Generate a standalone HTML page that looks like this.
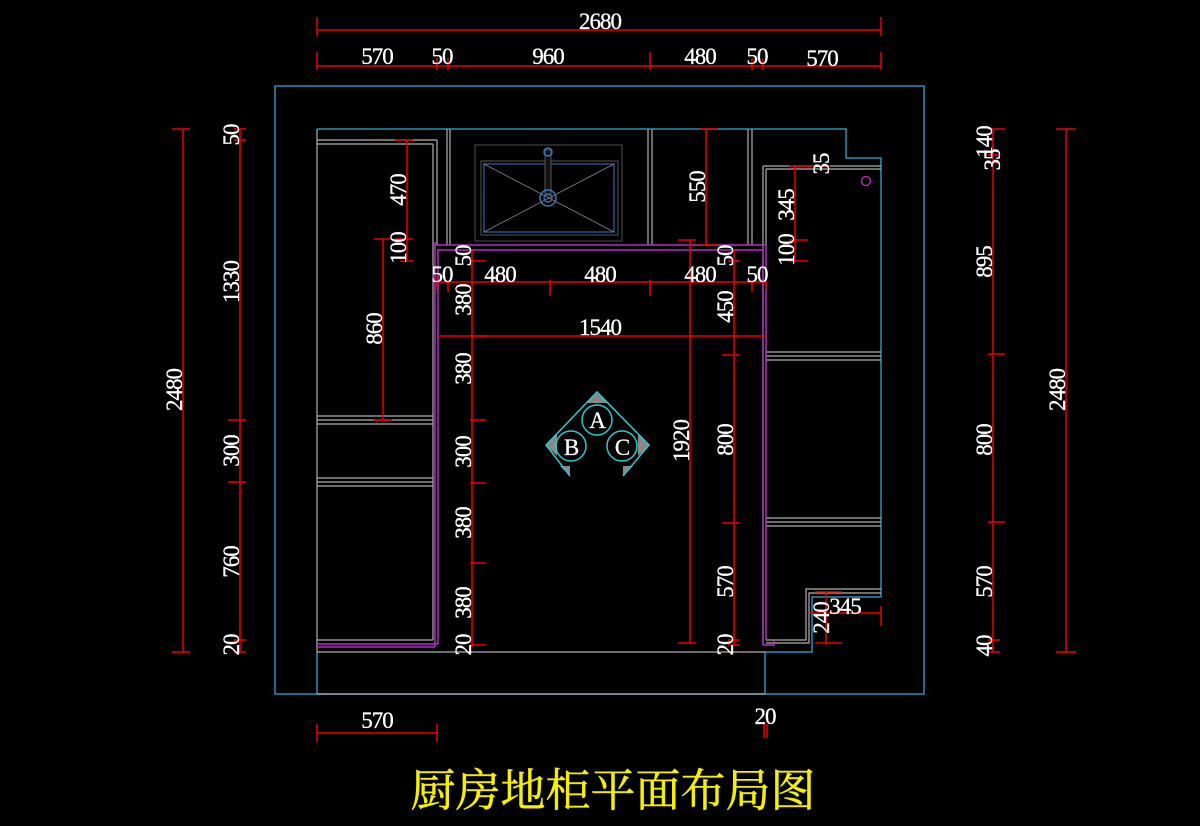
<!DOCTYPE html>
<html><head><meta charset="utf-8"><style>
html,body{margin:0;padding:0;background:#000;}
svg{display:block}
text{font-family:"Liberation Serif",serif;fill:#fff;font-size:23px;letter-spacing:-1px;stroke:#fff;stroke-width:0.3px;}
</style></head><body>
<svg width="1200" height="826" viewBox="0 0 1200 826" xmlns="http://www.w3.org/2000/svg">
<rect width="1200" height="826" fill="#000"/>
<g fill="none" stroke="#2a8fb5" stroke-width="1.5">
<rect x="275" y="86" width="649" height="608"/>
<polyline points="317,129 846,129 846,158 881,158 881,597 812,597 812,652 765,652 765,694"/>
<line x1="317" y1="652" x2="317" y2="694"/>
</g>
<g fill="none" stroke="#b0b0b0" stroke-width="1.2">
<line x1="317" y1="652" x2="765" y2="652"/>
<line x1="317" y1="694" x2="765" y2="694"/>
<line x1="317" y1="129" x2="317" y2="652"/>
<line x1="317" y1="140" x2="437" y2="140"/>
<line x1="317" y1="144" x2="433" y2="144"/>
<line x1="433" y1="144" x2="433" y2="640"/>
<line x1="437" y1="140" x2="437" y2="245"/>
<line x1="317" y1="416" x2="433" y2="416"/><line x1="317" y1="420" x2="433" y2="420"/><line x1="317" y1="424" x2="433" y2="424"/>
<line x1="317" y1="478" x2="433" y2="478"/><line x1="317" y1="482" x2="433" y2="482"/><line x1="317" y1="486" x2="433" y2="486"/>
<line x1="317" y1="640" x2="433" y2="640"/>
<line x1="447" y1="129" x2="447" y2="245"/><line x1="450" y1="129" x2="450" y2="245"/>
<line x1="648" y1="129" x2="648" y2="245"/><line x1="652" y1="129" x2="652" y2="245"/>
<line x1="748" y1="129" x2="748" y2="245"/><line x1="752" y1="129" x2="752" y2="245"/>
<line x1="763" y1="166" x2="881" y2="166"/><line x1="766" y1="169" x2="881" y2="169"/>
<line x1="763" y1="166" x2="763" y2="645"/><line x1="766" y1="169" x2="766" y2="245"/>
<line x1="766" y1="352" x2="881" y2="352"/><line x1="766" y1="356" x2="881" y2="356"/><line x1="766" y1="360" x2="881" y2="360"/>
<line x1="766" y1="518" x2="881" y2="518"/><line x1="766" y1="522" x2="881" y2="522"/><line x1="766" y1="526" x2="881" y2="526"/>
<polyline points="881,589 806,589 806,640 766,640"/>
<polyline points="881,593 809,593 809,643 766,643"/>
</g>
<rect x="475" y="145" width="147" height="96" fill="none" stroke="#444" stroke-width="1.2"/>
<rect x="481" y="161" width="137" height="74" fill="none" stroke="#555" stroke-width="1"/>
<rect x="484" y="164" width="130" height="68" fill="none" stroke="#2c4f8c" stroke-width="1.5"/>
<g stroke="#888" stroke-width="0.8"><line x1="484" y1="164" x2="614" y2="232"/><line x1="614" y1="164" x2="484" y2="232"/></g>
<rect x="545" y="150" width="6" height="45" fill="#111" stroke="#555"/>
<circle cx="548" cy="152" r="4" fill="none" stroke="#3a79c0" stroke-width="1.5"/>
<circle cx="548" cy="198" r="8" fill="none" stroke="#3a79c0" stroke-width="1.5"/>
<circle cx="548" cy="198" r="4" fill="none" stroke="#3a79c0" stroke-width="1.2"/>
<g fill="none" stroke="#b030c0" stroke-width="1.5">
<polyline points="435,245 765,245"/><polyline points="437,250 763,250"/>
<line x1="435" y1="242" x2="435" y2="647"/><line x1="438" y1="250" x2="438" y2="644"/>
<line x1="317" y1="644" x2="438" y2="644"/><line x1="317" y1="647" x2="435" y2="647"/>
<line x1="763" y1="245" x2="763" y2="645"/><line x1="766" y1="245" x2="766" y2="640"/>
<polyline points="763,645 774,645 774,640"/>
</g>
<circle cx="866" cy="181" r="4.5" fill="none" stroke="#c030c0" stroke-width="1.3"/>
<g>
<polygon points="597,392 608,403 586,403" fill="#888"/>
<polygon points="546,445 557,434 557,456" fill="#888"/>
<polygon points="649,445 638,434 638,456" fill="#888"/>
<polygon points="570,476 560,466 570,466" fill="#888"/>
<polygon points="623,476 633,466 623,466" fill="#888"/>
<g fill="none" stroke="#2ec8d0" stroke-width="1.5">
<polyline points="570,476 546,445 597,392 649,445 623,476"/>
<circle cx="597" cy="420" r="15"/><circle cx="571" cy="446" r="15"/><circle cx="622" cy="446" r="15"/>
</g>
<text x="597" y="428" text-anchor="middle" font-size="24">A</text>
<text x="571" y="455" text-anchor="middle" font-size="24">B</text>
<text x="622" y="455" text-anchor="middle" font-size="24">C</text>
</g>
<g stroke="#ee0000" stroke-width="1.5" fill="none">
<line x1="317" y1="30" x2="881" y2="30"/><line x1="317" y1="17" x2="317" y2="36"/><line x1="881" y1="17" x2="881" y2="36"/>
<line x1="317" y1="66" x2="881" y2="66"/>
<line x1="317" y1="52" x2="317" y2="70"/><line x1="437" y1="58" x2="437" y2="70"/><line x1="448" y1="58" x2="448" y2="70"/><line x1="650" y1="52" x2="650" y2="70"/><line x1="752" y1="58" x2="752" y2="70"/><line x1="763" y1="58" x2="763" y2="70"/><line x1="881" y1="52" x2="881" y2="70"/>
<line x1="183" y1="129" x2="183" y2="652"/><line x1="172" y1="129" x2="190" y2="129"/><line x1="172" y1="652" x2="190" y2="652"/>
<line x1="240" y1="129" x2="240" y2="652"/>
<line x1="234" y1="129" x2="246" y2="129"/><line x1="234" y1="140" x2="246" y2="140"/><line x1="228" y1="420" x2="246" y2="420"/><line x1="228" y1="482" x2="246" y2="482"/><line x1="234" y1="640" x2="246" y2="640"/><line x1="234" y1="652" x2="246" y2="652"/>
<line x1="1066" y1="129" x2="1066" y2="652"/><line x1="1056" y1="129" x2="1076" y2="129"/><line x1="1056" y1="652" x2="1076" y2="652"/>
<line x1="993" y1="129" x2="993" y2="652"/>
<line x1="988" y1="129" x2="1005" y2="129"/><line x1="988" y1="155" x2="1000" y2="155"/><line x1="988" y1="163" x2="1000" y2="163"/><line x1="988" y1="354" x2="1005" y2="354"/><line x1="988" y1="522" x2="1005" y2="522"/><line x1="988" y1="640" x2="1000" y2="640"/><line x1="988" y1="652" x2="1000" y2="652"/>
<line x1="407" y1="140" x2="407" y2="260"/><line x1="395" y1="140" x2="413" y2="140"/><line x1="395" y1="239" x2="413" y2="239"/><line x1="400" y1="261" x2="413" y2="261"/>
<line x1="383" y1="239" x2="383" y2="420"/><line x1="374" y1="239" x2="392" y2="239"/><line x1="374" y1="420" x2="392" y2="420"/>
<line x1="472" y1="250" x2="472" y2="647"/>
<line x1="470" y1="261" x2="486" y2="261"/><line x1="470" y1="336" x2="486" y2="336"/><line x1="470" y1="420" x2="486" y2="420"/><line x1="470" y1="483" x2="486" y2="483"/><line x1="470" y1="563" x2="486" y2="563"/><line x1="470" y1="645" x2="486" y2="645"/>
<line x1="690" y1="240" x2="690" y2="643"/><line x1="678" y1="240" x2="696" y2="240"/><line x1="678" y1="643" x2="696" y2="643"/>
<line x1="706" y1="129" x2="706" y2="245"/><line x1="700" y1="129" x2="718" y2="129"/><line x1="700" y1="245" x2="718" y2="245"/>
<line x1="734" y1="250" x2="734" y2="645"/>
<line x1="728" y1="261" x2="740" y2="261"/><line x1="722" y1="355" x2="740" y2="355"/><line x1="722" y1="523" x2="740" y2="523"/><line x1="728" y1="640" x2="740" y2="640"/><line x1="728" y1="645" x2="740" y2="645"/>
<line x1="795" y1="166" x2="795" y2="261"/><line x1="789" y1="166" x2="830" y2="166"/><line x1="789" y1="240" x2="808" y2="240"/><line x1="789" y1="261" x2="808" y2="261"/>
<line x1="437" y1="282" x2="766" y2="282"/>
<line x1="437" y1="275" x2="437" y2="290"/><line x1="448" y1="282" x2="448" y2="292"/><line x1="550" y1="280" x2="550" y2="296"/><line x1="650" y1="280" x2="650" y2="296"/><line x1="752" y1="282" x2="752" y2="292"/><line x1="766" y1="275" x2="766" y2="290"/>
<line x1="437" y1="336" x2="766" y2="336"/>
<line x1="826" y1="592" x2="826" y2="643"/><line x1="815" y1="592" x2="842" y2="592"/><line x1="815" y1="643" x2="842" y2="643"/>
<line x1="810" y1="613" x2="881" y2="613"/><line x1="881" y1="606" x2="881" y2="626"/>
<line x1="317" y1="733" x2="437" y2="733"/><line x1="317" y1="724" x2="317" y2="742"/><line x1="437" y1="724" x2="437" y2="742"/>
<line x1="764" y1="724" x2="764" y2="738"/><line x1="767" y1="724" x2="767" y2="738"/>
</g>
<g text-anchor="middle">
<text x="600" y="29">2680</text>
<text x="377" y="64">570</text><text x="442" y="64">50</text><text x="548" y="64">960</text><text x="700" y="64">480</text><text x="757" y="64">50</text><text x="822" y="66">570</text>
<text x="442" y="282">50</text><text x="500" y="282">480</text><text x="600" y="282">480</text><text x="700" y="282">480</text><text x="757" y="282">50</text>
<text x="600" y="335">1540</text>
<text x="845" y="614">345</text>
<text x="377" y="728">570</text>
<text x="765" y="724">20</text>
</g>
<g text-anchor="middle">
<text transform="translate(182,390) rotate(-90)">2480</text>
<text transform="translate(239,135) rotate(-90)">50</text>
<text transform="translate(239,282) rotate(-90)">1330</text>
<text transform="translate(239,451) rotate(-90)">300</text>
<text transform="translate(239,562) rotate(-90)">760</text>
<text transform="translate(239,645) rotate(-90)">20</text>
<text transform="translate(992,142) rotate(-90)">140</text>
<text transform="translate(1000,160) rotate(-90)" font-size="17">35</text>
<text transform="translate(992,262) rotate(-90)">895</text>
<text transform="translate(992,440) rotate(-90)">800</text>
<text transform="translate(992,582) rotate(-90)">570</text>
<text transform="translate(992,646) rotate(-90)">40</text>
<text transform="translate(1065,390) rotate(-90)">2480</text>
<text transform="translate(406,190) rotate(-90)">470</text>
<text transform="translate(406,248) rotate(-90)">100</text>
<text transform="translate(382,329) rotate(-90)">860</text>
<text transform="translate(471,256) rotate(-90)">50</text>
<text transform="translate(471,300) rotate(-90)">380</text>
<text transform="translate(471,369) rotate(-90)">380</text>
<text transform="translate(471,452) rotate(-90)">300</text>
<text transform="translate(471,523) rotate(-90)">380</text>
<text transform="translate(471,603) rotate(-90)">380</text>
<text transform="translate(471,645) rotate(-90)">20</text>
<text transform="translate(689,441) rotate(-90)">1920</text>
<text transform="translate(705,187) rotate(-90)">550</text>
<text transform="translate(733,256) rotate(-90)">50</text>
<text transform="translate(733,307) rotate(-90)">450</text>
<text transform="translate(733,440) rotate(-90)">800</text>
<text transform="translate(733,582) rotate(-90)">570</text>
<text transform="translate(733,645) rotate(-90)">20</text>
<text transform="translate(794,205) rotate(-90)">345</text>
<text transform="translate(794,250) rotate(-90)">100</text>
<text transform="translate(829,164) rotate(-90)">35</text>
<text transform="translate(829,618) rotate(-90)">240</text>
</g>
<text x="613" y="806" text-anchor="middle" style="font-family:'Noto Serif CJK SC','Liberation Serif',serif;font-size:45px;fill:#f5f000;stroke:#f5f000;stroke-width:0.5px;letter-spacing:0;">厨房地柜平面布局图</text>
</svg>
</body></html>
